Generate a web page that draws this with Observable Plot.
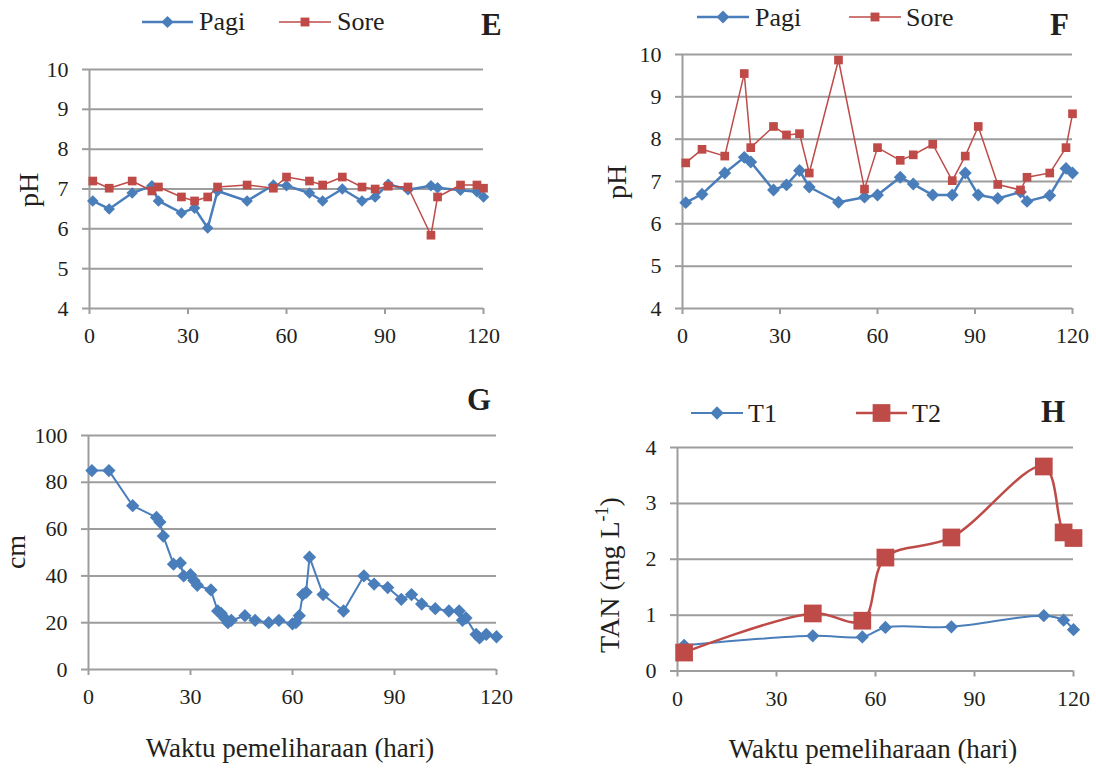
<!DOCTYPE html>
<html>
<head>
<meta charset="utf-8">
<script src="https://cdn.jsdelivr.net/npm/d3@7"></script>
<script src="https://cdn.jsdelivr.net/npm/@observablehq/plot@0.6"></script>
<style>
  body { margin: 0; background: #fff; }
  #fig { position: relative; width: 1096px; height: 768px; overflow: hidden; background: #fff;
         font-family: "Liberation Serif", "Times New Roman", serif; color: #231f20; }
  #fig > div.panel { position: absolute; }
  #fig div.panel svg, #fig div.panel svg text {
    font-family: "Liberation Serif", "Times New Roman", serif !important;
    font-size: 22px !important;
    font-variant: normal !important;
  }
  #overlay { position: absolute; left: 0; top: 0; pointer-events: none; }
</style>
</head>
<body>
<div id="fig"></div>
<script>
// ---------------- DATA ----------------
// Panel E (pH)
const eDays = [1, 6, 13, 19, 21, 28, 32, 36, 39, 48, 56, 60, 67, 71, 77, 83, 87, 91, 97, 104, 106, 113, 118, 120];
const ePagi = [6.7, 6.5, 6.9, 7.08, 6.7, 6.4, 6.52, 6.02, 6.95, 6.7, 7.1, 7.08, 6.9, 6.7, 7.0, 6.7, 6.8, 7.12, 6.98, 7.08, 7.03, 6.97, 6.93, 6.8];
const eSore = [7.2, 7.02, 7.2, 6.95, 7.05, 6.8, 6.7, 6.8, 7.05, 7.1, 7.02, 7.3, 7.2, 7.1, 7.3, 7.05, 7.0, 7.07, 7.05, 5.84, 6.8, 7.1, 7.1, 7.02];
// Panel F (pH)
const fDays = [1, 6, 13, 19, 21, 28, 32, 36, 39, 48, 56, 60, 67, 71, 77, 83, 87, 91, 97, 104, 106, 113, 118, 120];
const fPagi = [6.5, 6.7, 7.2, 7.57, 7.46, 6.8, 6.92, 7.26, 6.87, 6.51, 6.63, 6.68, 7.1, 6.94, 6.68, 6.68, 7.2, 6.68, 6.6, 6.75, 6.53, 6.67, 7.31, 7.2];
const fSore = [7.44, 7.76, 7.6, 9.55, 7.8, 8.3, 8.1, 8.13, 7.2, 9.87, 6.82, 7.8, 7.5, 7.63, 7.88, 7.02, 7.6, 8.3, 6.93, 6.8, 7.1, 7.2, 7.8, 8.6];
// Panel G (cm)
const gDays = [1, 6, 13, 20, 21, 22, 25, 27, 28, 30, 31, 32, 36, 38, 39, 40, 41, 42, 46, 49, 53, 56, 60, 61, 62, 63, 64, 65, 69, 75, 81, 84, 88, 92, 95, 98, 102, 106, 109, 110, 111, 114, 115, 117, 120];
const gCm = [85, 85, 70, 65, 63, 57, 45, 45.5, 40, 40.5, 38, 36, 34, 25, 24, 22, 20, 21, 23, 21, 20, 21, 19.5, 20, 23, 32, 33, 48, 32, 25, 40, 36.5, 35, 30, 32, 28, 26, 25, 25, 21, 22, 15, 13.5, 15, 14];
// Panel H (TAN mg/L)
const hDays = [2, 41, 56, 63, 83, 111, 117, 120];
const hT1 = [0.46, 0.63, 0.61, 0.78, 0.79, 0.99, 0.91, 0.74];
const hT2 = [0.33, 1.03, 0.9, 2.03, 2.39, 3.66, 2.48, 2.38];
// Tick labels
const xTicks = [0, 30, 60, 90, 120];
const phTicks = [4, 5, 6, 7, 8, 9, 10];
const cmTicks = [0, 20, 40, 60, 80, 100];
const tanTicks = [0, 1, 2, 3, 4];
const xTitle = "Waktu pemeliharaan (hari)";

// ---------------- STYLE ----------------
const BLUE = "#4a7ebb";
const RED = "#be4b48";
const GRID = "#9d9d9d";
const INK = "#231f20";
const FONT = "Liberation Serif, Times New Roman, serif";

const fig = document.getElementById("fig");

function rows(days, ...series) {
  return days.map((d, i) => {
    const o = { day: d };
    series.forEach(([k, arr]) => o[k] = arr[i]);
    return o;
  });
}

function panel({ left, top, width, height, mt, mr, mb, ml, yDomain, yTicks, series }) {
  const marks = [
    Plot.ruleY(yTicks, { stroke: GRID, strokeWidth: 2 }),
    Plot.ruleX([0], { stroke: GRID, strokeWidth: 2 }),
    Plot.axisY({ ticks: yTicks, tickSize: 7, tickPadding: 14, stroke: GRID, strokeWidth: 2, fill: INK, label: null, tickFormat: d => String(d) }),
    Plot.axisX({ ticks: xTicks, tickSize: 6, tickPadding: 13, stroke: GRID, strokeWidth: 2, fill: INK, label: null, tickFormat: d => String(d) })
  ];
  for (const s of series) {
    marks.push(Plot.line(s.data, { x: "day", y: s.key, stroke: s.color, strokeWidth: s.lw, curve: s.curve || "linear" }));
    marks.push(Plot.dot(s.data, { x: "day", y: s.key, symbol: s.symbol, r: s.r, fill: s.color, stroke: "none" }));
  }
  const p = Plot.plot({
    width, height, marginTop: mt, marginRight: mr, marginBottom: mb, marginLeft: ml,
    style: { fontFamily: FONT, fontSize: "22px", color: INK, background: "transparent", overflow: "visible" },
    x: { domain: [0, 120] },
    y: { domain: yDomain },
    marks
  });
  const div = document.createElement("div");
  div.className = "panel";
  div.style.left = left + "px";
  div.style.top = top + "px";
  div.appendChild(p);
  fig.appendChild(div);
}

const eData = rows(eDays, ["pagi", ePagi], ["sore", eSore]);
const fData = rows(fDays, ["pagi", fPagi], ["sore", fSore]);
const gData = rows(gDays, ["cm", gCm]);
const hData = rows(hDays, ["t1", hT1], ["t2", hT2]);

// E  (plot area x 89..483, y 69..308)
panel({ left: 0, top: 0, width: 530, height: 360, mt: 69, mr: 47, mb: 52, ml: 89,
  yDomain: [4, 10], yTicks: phTicks,
  series: [
    { data: eData, key: "pagi", color: BLUE, lw: 2.5, symbol: "diamond2", r: 5.2 },
    { data: eData, key: "sore", color: RED, lw: 1.5, symbol: "square", r: 4.9 }
  ] });
// F  (plot area x 682..1072, y 54..308)
panel({ left: 560, top: 0, width: 536, height: 360, mt: 54, mr: 24, mb: 52, ml: 122,
  yDomain: [4, 10], yTicks: phTicks,
  series: [
    { data: fData, key: "pagi", color: BLUE, lw: 2.5, symbol: "diamond2", r: 5.8 },
    { data: fData, key: "sore", color: RED, lw: 1.5, symbol: "square", r: 4.9 }
  ] });
// G  (plot area x 88..496, y 435..669)
panel({ left: 0, top: 370, width: 530, height: 340, mt: 65, mr: 34, mb: 41, ml: 88,
  yDomain: [0, 100], yTicks: cmTicks,
  series: [
    { data: gData, key: "cm", color: BLUE, lw: 2, symbol: "diamond2", r: 6 }
  ] });
// H  (plot area x 677..1073, y 447..670.5)
panel({ left: 560, top: 370, width: 536, height: 340, mt: 77, mr: 23, mb: 39.5, ml: 117,
  yDomain: [0, 4], yTicks: tanTicks,
  series: [
    { data: hData, key: "t1", color: BLUE, lw: 2, symbol: "diamond2", r: 6, curve: "catmull-rom" },
    { data: hData, key: "t2", color: RED, lw: 2.5, symbol: "square", r: 10, curve: "catmull-rom" }
  ] });

// ---------------- OVERLAY: legends, titles, panel letters ----------------
const svg = d3.select(fig).append("svg").attr("id", "overlay")
  .attr("width", 1096).attr("height", 768)
  .style("font-family", FONT).style("fill", INK);

function legendItem(x1, x2, y, color, lw, symbolType, r, label, tx, baseline) {
  svg.append("line").attr("x1", x1).attr("x2", x2).attr("y1", y).attr("y2", y)
    .attr("stroke", color).attr("stroke-width", lw);
  svg.append("path").attr("transform", `translate(${(x1 + x2) / 2},${y})`)
    .attr("d", d3.symbol().type(symbolType).size(Math.PI * r * r)())
    .attr("fill", color);
  svg.append("text").attr("x", tx).attr("y", baseline).attr("font-size", 26).text(label);
}

// E legend
legendItem(142, 193, 22, BLUE, 2.5, d3.symbolDiamond2, 5.5, "Pagi", 199, 30);
legendItem(279, 331, 22, RED, 1.5, d3.symbolSquare, 5, "Sore", 337, 30);
// F legend
legendItem(697, 749, 17, BLUE, 2.5, d3.symbolDiamond2, 5.8, "Pagi", 755, 26);
legendItem(849, 901, 17, RED, 1.5, d3.symbolSquare, 5, "Sore", 906, 26);
// H legend
legendItem(691, 743, 413, BLUE, 2, d3.symbolDiamond2, 6, "T1", 748, 422);
legendItem(856, 907, 413, RED, 2.5, d3.symbolSquare, 10, "T2", 912, 422);

// Panel letters
[["E", 481, 35], ["F", 1050, 35], ["G", 467, 410], ["H", 1041, 422]].forEach(([t, x, y]) => {
  svg.append("text").attr("x", x).attr("y", y).attr("font-size", 31).attr("font-weight", "bold").text(t);
});

// Y axis titles (rotated)
function yTitle(cy, baselineX, build) {
  const t = svg.append("text")
    .attr("transform", `translate(${baselineX},${cy}) rotate(-90)`)
    .attr("text-anchor", "middle").attr("font-size", 28);
  build(t);
}
yTitle(190, 38, t => t.text("pH"));
yTitle(182, 626, t => t.text("pH"));
yTitle(552, 25, t => t.text("cm"));
yTitle(575, 619, t => {
  t.append("tspan").text("TAN (mg L");
  t.append("tspan").attr("font-size", 18).attr("dy", -11).text("-1");
  t.append("tspan").attr("dy", 11).text(")");
});

// X axis titles
svg.append("text").attr("x", 290).attr("y", 757).attr("text-anchor", "middle").attr("font-size", 27).text(xTitle);
svg.append("text").attr("x", 873).attr("y", 758).attr("text-anchor", "middle").attr("font-size", 27).text(xTitle);
</script>
</body>
</html>
